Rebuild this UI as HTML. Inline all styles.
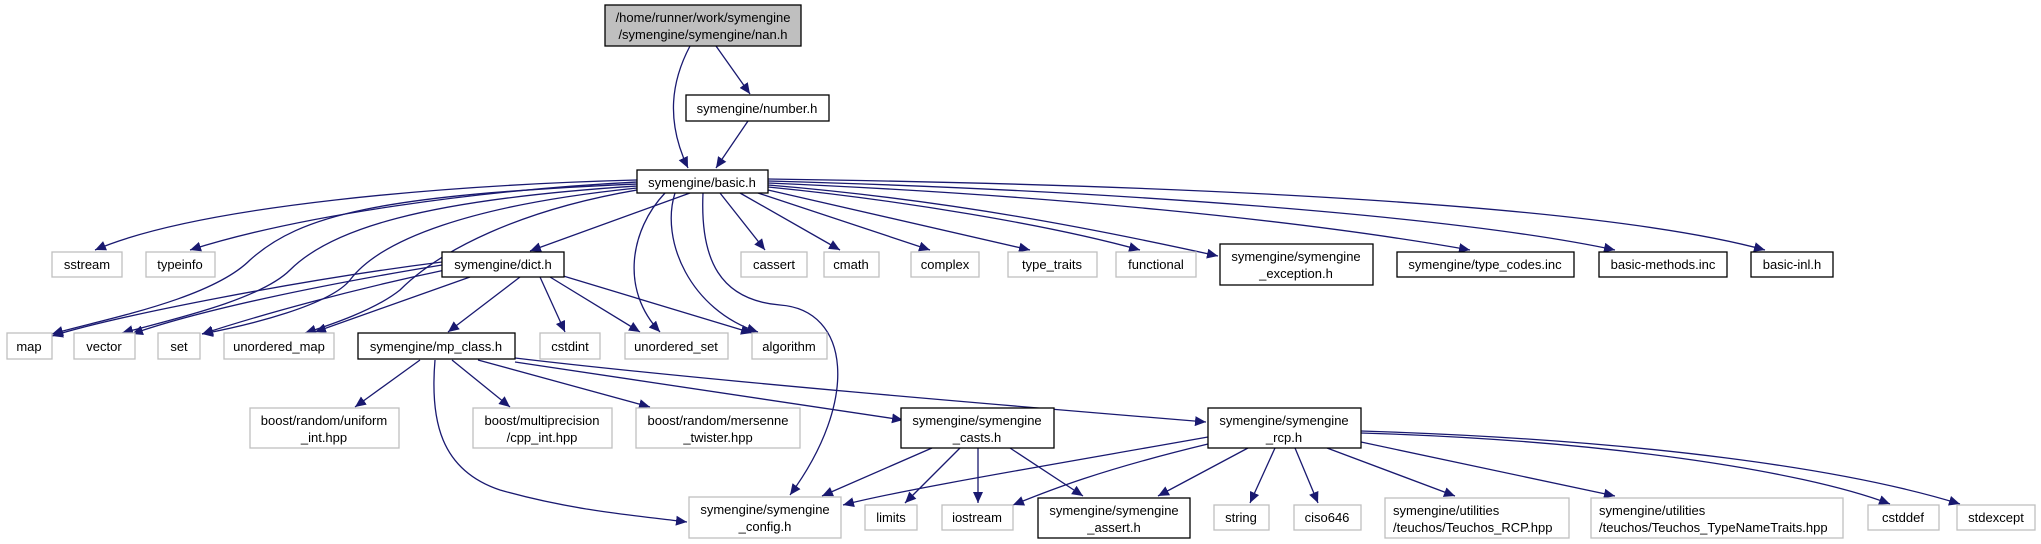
<!DOCTYPE html>
<html><head><meta charset="utf-8"><style>
html,body{margin:0;padding:0;background:#fff;}
svg{display:block;}
text{font-family:"Liberation Sans",sans-serif;font-size:13px;fill:#000;}
.g{fill:#fff;stroke:#bfbfbf;stroke-width:1.3;}
.b{fill:#fff;stroke:#000;stroke-width:1.3;}
.e{fill:none;stroke:#191970;stroke-width:1.3;}
</style></head><body>
<svg width="2041" height="544" viewBox="0 0 2041 544" xmlns="http://www.w3.org/2000/svg">
<defs><marker id="a" markerUnits="userSpaceOnUse" markerWidth="12" markerHeight="10" refX="11" refY="5" orient="auto"><path d="M0,0 L11,5 L0,10 Z" fill="#191970"/></marker></defs>
<g marker-end="url(#a)">
<path class="e" d="M690,46 C672,80 665,120 688,168"/>
<path class="e" d="M716,46 L750,94"/>
<path class="e" d="M748,121 L716,168"/>
<path class="e" d="M637,180 C450,185 200,205 95,250"/>
<path class="e" d="M637,182 C480,190 300,215 190,250"/>
<path class="e" d="M637,184 C380,195 300,215 250,260 C210,300 100,320 52,334"/>
<path class="e" d="M637,186 C420,200 330,230 290,270 C260,300 170,320 122,333"/>
<path class="e" d="M637,188 C470,205 380,240 350,280 C330,305 250,325 202,334"/>
<path class="e" d="M637,190 C520,210 440,250 400,290 C375,310 330,325 305,333"/>
<path class="e" d="M690,193 L530,251"/>
<path class="e" d="M665,193 C630,230 620,290 660,332"/>
<path class="e" d="M675,193 C660,240 690,310 758,332"/>
<path class="e" d="M703,193 C700,260 720,300 780,305 C850,310 860,400 790,495"/>
<path class="e" d="M720,193 L765,250"/>
<path class="e" d="M740,193 L840,250"/>
<path class="e" d="M758,193 L930,250"/>
<path class="e" d="M768,190 L1030,250"/>
<path class="e" d="M768,187 C900,200 1050,225 1140,250"/>
<path class="e" d="M768,185 C950,200 1100,230 1218,256"/>
<path class="e" d="M768,183 C1050,195 1300,220 1470,250"/>
<path class="e" d="M768,181 C1100,190 1450,215 1615,250"/>
<path class="e" d="M768,179 C1200,185 1600,205 1765,250"/>
<path class="e" d="M442,262 C300,280 120,315 52,336"/>
<path class="e" d="M442,265 C320,285 200,310 132,334"/>
<path class="e" d="M445,270 C350,290 260,315 202,334"/>
<path class="e" d="M470,277 L315,332"/>
<path class="e" d="M520,277 L448,332"/>
<path class="e" d="M540,277 L565,332"/>
<path class="e" d="M550,277 L640,332"/>
<path class="e" d="M560,275 L752,333"/>
<path class="e" d="M420,360 L355,407"/>
<path class="e" d="M452,360 L510,407"/>
<path class="e" d="M478,360 L650,407"/>
<path class="e" d="M515,362 L903,420"/>
<path class="e" d="M515,358 C700,380 1000,405 1206,422"/>
<path class="e" d="M435,360 C430,420 440,470 500,490 C570,510 630,515 687,522"/>
<path class="e" d="M932,448 L822,496"/>
<path class="e" d="M960,448 L905,503"/>
<path class="e" d="M978,448 L978,503"/>
<path class="e" d="M1010,448 L1083,496"/>
<path class="e" d="M1208,437 C1050,465 900,490 843,505"/>
<path class="e" d="M1208,444 C1100,470 1050,490 1013,505"/>
<path class="e" d="M1248,448 L1158,496"/>
<path class="e" d="M1275,448 L1250,503"/>
<path class="e" d="M1295,448 L1318,503"/>
<path class="e" d="M1327,448 L1455,496"/>
<path class="e" d="M1361,442 L1615,496"/>
<path class="e" d="M1361,433 C1600,440 1800,470 1890,504"/>
<path class="e" d="M1361,431 C1650,440 1850,470 1960,504"/>
</g>
<rect x="605" y="5" width="196" height="41" fill="#bfbfbf" stroke="#000" stroke-width="1.3"/>
<text x="703" y="22" text-anchor="middle">/home/runner/work/symengine</text>
<text x="703" y="39" text-anchor="middle">/symengine/symengine/nan.h</text>
<rect class="b" x="686" y="95" width="143" height="26"/><text x="757" y="113" text-anchor="middle">symengine/number.h</text>
<rect class="b" x="637" y="170" width="131" height="23"/><text x="702" y="187" text-anchor="middle">symengine/basic.h</text>
<g text-anchor="middle">
<rect class="g" x="52" y="252" width="70" height="25"/><text x="87" y="269">sstream</text>
<rect class="g" x="146" y="252" width="69" height="25"/><text x="180" y="269">typeinfo</text>
<rect class="b" x="442" y="252" width="122" height="25"/><text x="503" y="269">symengine/dict.h</text>
<rect class="g" x="741" y="252" width="66" height="25"/><text x="774" y="269">cassert</text>
<rect class="g" x="824" y="252" width="55" height="25"/><text x="851" y="269">cmath</text>
<rect class="g" x="911" y="252" width="68" height="25"/><text x="945" y="269">complex</text>
<rect class="g" x="1008" y="252" width="89" height="25"/><text x="1052" y="269">type_traits</text>
<rect class="g" x="1116" y="252" width="80" height="25"/><text x="1156" y="269">functional</text>
<rect class="b" x="1220" y="244" width="153" height="41"/><text x="1296" y="261">symengine/symengine</text><text x="1296" y="278">_exception.h</text>
<rect class="b" x="1397" y="252" width="177" height="25"/><text x="1485" y="269">symengine/type_codes.inc</text>
<rect class="b" x="1599" y="252" width="128" height="25"/><text x="1663" y="269">basic-methods.inc</text>
<rect class="b" x="1751" y="252" width="82" height="25"/><text x="1792" y="269">basic-inl.h</text>
<rect class="g" x="7" y="333" width="45" height="26"/><text x="29" y="351">map</text>
<rect class="g" x="74" y="333" width="61" height="26"/><text x="104" y="351">vector</text>
<rect class="g" x="158" y="333" width="42" height="26"/><text x="179" y="351">set</text>
<rect class="g" x="224" y="333" width="110" height="26"/><text x="279" y="351">unordered_map</text>
<rect class="b" x="358" y="333" width="157" height="26"/><text x="436" y="351">symengine/mp_class.h</text>
<rect class="g" x="540" y="333" width="60" height="26"/><text x="570" y="351">cstdint</text>
<rect class="g" x="625" y="333" width="103" height="26"/><text x="676" y="351">unordered_set</text>
<rect class="g" x="752" y="333" width="75" height="26"/><text x="789" y="351">algorithm</text>
<rect class="g" x="250" y="408" width="149" height="40"/><text x="324" y="425">boost/random/uniform</text><text x="324" y="442">_int.hpp</text>
<rect class="g" x="473" y="408" width="139" height="40"/><text x="542" y="425">boost/multiprecision</text><text x="542" y="442">/cpp_int.hpp</text>
<rect class="g" x="636" y="408" width="164" height="40"/><text x="718" y="425">boost/random/mersenne</text><text x="718" y="442">_twister.hpp</text>
<rect class="b" x="901" y="408" width="153" height="40"/><text x="977" y="425">symengine/symengine</text><text x="977" y="442">_casts.h</text>
<rect class="b" x="1208" y="408" width="153" height="40"/><text x="1284" y="425">symengine/symengine</text><text x="1284" y="442">_rcp.h</text>
<rect class="g" x="689" y="497" width="152" height="41"/><text x="765" y="514">symengine/symengine</text><text x="765" y="531">_config.h</text>
<rect class="g" x="865" y="505" width="52" height="25"/><text x="891" y="522">limits</text>
<rect class="g" x="942" y="505" width="71" height="25"/><text x="977" y="522">iostream</text>
<rect class="b" x="1038" y="498" width="152" height="40"/><text x="1114" y="515">symengine/symengine</text><text x="1114" y="532">_assert.h</text>
<rect class="g" x="1214" y="505" width="55" height="25"/><text x="1241" y="522">string</text>
<rect class="g" x="1294" y="505" width="67" height="25"/><text x="1327" y="522">ciso646</text>
</g>
<rect class="g" x="1385" y="498" width="184" height="40"/><text x="1393" y="515">symengine/utilities</text><text x="1393" y="532">/teuchos/Teuchos_RCP.hpp</text>
<rect class="g" x="1591" y="498" width="252" height="40"/><text x="1599" y="515">symengine/utilities</text><text x="1599" y="532">/teuchos/Teuchos_TypeNameTraits.hpp</text>
<g text-anchor="middle">
<rect class="g" x="1868" y="505" width="71" height="25"/><text x="1903" y="522">cstddef</text>
<rect class="g" x="1957" y="505" width="78" height="25"/><text x="1996" y="522">stdexcept</text>
</g>
</svg>
</body></html>
